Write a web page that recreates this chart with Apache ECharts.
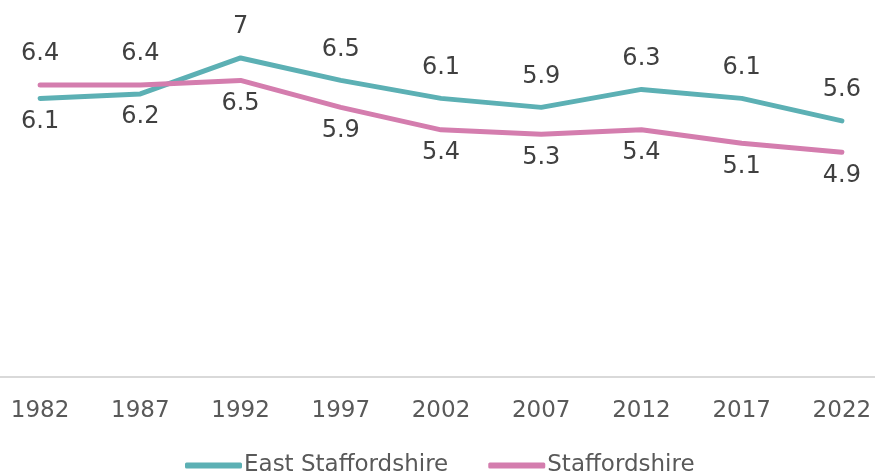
<!DOCTYPE html>
<html>
<head>
<meta charset="utf-8">
<script src="https://cdn.jsdelivr.net/npm/echarts@6/dist/echarts.min.js"></script>
<style>
  html, body { margin: 0; padding: 0; background: #fff; }
  #chart { width: 875px; height: 473px; }
</style>
</head>
<body>
<div id="chart"></div>
<script>
// years on the x axis
var years = ['1982', '1987', '1992', '1997', '2002', '2007', '2012', '2017', '2022'];
var eastStaffs = [6.1, 6.2, 7, 6.5, 6.1, 5.9, 6.3, 6.1, 5.6];
var staffs = [6.4, 6.4, 6.5, 5.9, 5.4, 5.3, 5.4, 5.1, 4.9];

var teal = '#5cb0b4';
var pink = '#d47dae';

// label goes above for the higher line, below for the lower one
var withLabels = function(vals, other) {
    return vals.map(function(v, i) {
        var up = v >= other[i];
        return {
            value: v,
            label: {
                position: up ? 'top' : 'bottom',
                distance: up ? 19 : 11
            }
        };
    });
};

var mkSeries = function(name, vals, other, color) {
    return {
        name: name,
        type: 'line',
        symbol: 'circle',
        symbolSize: 0,
        showSymbol: true,
        data: withLabels(vals, other),
        lineStyle: { color: color, width: 5, cap: 'round', join: 'round' },
        itemStyle: { color: color },
        label: {
            show: true,
            color: '#404040',
            fontSize: 24,
            fontFamily: 'DejaVu Sans'
        }
    };
};

option = {
    backgroundColor: '#fff',
    animation: false,
    textStyle: { fontFamily: 'DejaVu Sans' },
    grid: { left: -10, right: -17, top: 13, bottom: 96, outerBoundsMode: 'none', containLabel: false },
    legend: {
        left: 180,
        top: 449,
        itemWidth: 57,
        itemHeight: 6,
        itemGap: 40,
        icon: 'roundRect',
        data: ['East Staffordshire', 'Staffordshire'],
        textStyle: { color: '#595959', fontSize: 23, padding: [0, 0, 0, -3] }
    },
    xAxis: {
        type: 'category',
        data: years,
        axisTick: { show: false },
        axisLine: { onZero: false, lineStyle: { color: '#d9d9d9', width: 2 } },
        axisLabel: { color: '#595959', fontSize: 23, margin: 23 }
    },
    yAxis: {
        type: 'value',
        min: -0.1,
        max: 8,
        show: false,
        splitLine: { show: false }
    },
    series: [
        mkSeries('East Staffordshire', eastStaffs, staffs, teal),
        mkSeries('Staffordshire', staffs, eastStaffs, pink)
    ]
};

var myecharts = echarts.init(document.getElementById('chart'));
myecharts.setOption(option);
</script>
</body>
</html>
